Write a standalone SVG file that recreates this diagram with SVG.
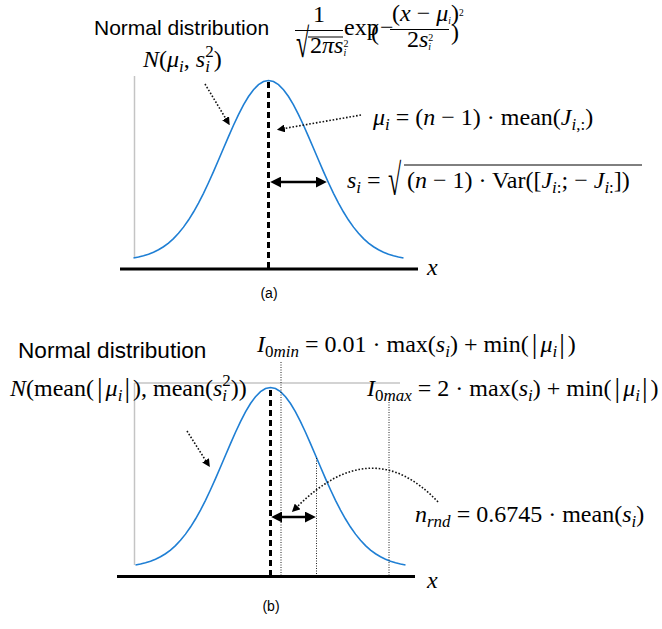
<svg xmlns="http://www.w3.org/2000/svg" width="662" height="629" viewBox="0 0 662 629">
<style>
.t{font-family:"Liberation Sans",Arial,sans-serif;fill:#000}
.m{font-family:"Liberation Serif","Times New Roman",serif;font-size:24px;fill:#000}
.i{font-style:italic}
.gray{stroke:#c4c4c4;stroke-width:1.5;fill:none}
.curve{stroke:#1f7fd4;stroke-width:1.6;fill:none}
.mean{stroke:#000;stroke-width:3;stroke-dasharray:6 4;fill:none}
.axis{stroke:#000;stroke-width:3;fill:none}
.dot{stroke:#111;stroke-width:1.6;stroke-dasharray:1.6 1.8;fill:none}
.thin{stroke:#222;stroke-width:1;stroke-dasharray:1 1.5;fill:none}
.dbl{stroke:#000;stroke-width:2.5;fill:none}
.rule{stroke:#000;stroke-width:1;fill:none}
</style>
<defs>
<path id="gauss" d="M-135 177.44 L-130 176.51 L-125 175.3 L-120 173.74 L-115 171.77 L-110 169.3 L-105 166.25 L-100 162.53 L-95 158.07 L-90 152.79 L-85 146.63 L-80 139.55 L-75 131.53 L-70 122.6 L-65 112.82 L-60 102.27 L-55 91.12 L-50 79.53 L-45 67.76 L-40 56.07 L-35 44.74 L-30 34.08 L-25 24.42 L-20 16.04 L-15 9.2 L-10 4.15 L-5 1.05 L0 0 L5 1.05 L10 4.15 L15 9.2 L20 16.04 L25 24.42 L30 34.08 L35 44.74 L40 56.07 L45 67.76 L50 79.53 L55 91.12 L60 102.27 L65 112.82 L70 122.6 L75 131.53 L80 139.55 L85 146.63 L90 152.79 L95 158.07 L100 162.53 L105 166.25 L110 169.3 L115 171.77 L120 173.74 L125 175.3 L130 176.51 L135 177.44"/>
<marker id="ahS" viewBox="0 0 10 10" refX="1" refY="5" markerWidth="8" markerHeight="8" markerUnits="userSpaceOnUse" orient="auto-start-reverse"><path d="M0,0 L10,5 L0,10 z" fill="#000"/></marker>
<marker id="ahL" viewBox="0 0 10 10" refX="2" refY="5" markerWidth="11" markerHeight="11" markerUnits="userSpaceOnUse" orient="auto-start-reverse"><path d="M0,0 L10,5 L0,10 z" fill="#000"/></marker>
</defs>

<g id="panel-a">
  <g id="a-axes">
    <line class="gray" x1="134.5" y1="76" x2="134.5" y2="258"/>
    <line class="axis" x1="120" y1="269" x2="418" y2="269"/>
    <text class="m i" x="427" y="275" font-size="24">x</text>
  </g>
  <g id="a-curve"><use href="#gauss" class="curve" transform="translate(268.5 80.5)"/></g>
  <g id="a-mean"><line class="mean" x1="268.5" y1="82" x2="268.5" y2="268"/></g>
  <g id="a-title">
    <text class="t" x="94" y="35" font-size="21">Normal distribution</text>
  </g>
  <g id="a-pdf">
    <text class="m" x="313" y="22" font-size="14">1</text>
    <line class="rule" x1="295" y1="30.5" x2="343" y2="30.5"/>
    <text class="m" font-size="24" transform="translate(296 57) scale(1 1.7)">√</text>
    <line class="rule" x1="308" y1="37" x2="343" y2="37"/>
    <text class="m" x="310" y="53" font-size="14">2<tspan class="i">πs</tspan><tspan font-size="10" dy="-6">2</tspan><tspan font-size="10" class="i" dx="-5" dy="9">i</tspan></text>
    <text class="m" x="344" y="35" font-size="14">exp</text>
    <text class="m" x="371" y="40" font-size="25">(</text>
    <text class="m" x="380" y="35" font-size="15">−</text>
    <text class="m" x="392" y="21" font-size="13">(<tspan class="i">x</tspan> − <tspan class="i">μ</tspan><tspan font-size="9.5" class="i" dy="3">i</tspan><tspan dy="-3">)</tspan><tspan font-size="9.5" dy="-5">2</tspan></text>
    <line class="rule" x1="390" y1="29.5" x2="449" y2="29.5"/>
    <text class="m" x="407" y="47" font-size="14">2<tspan class="i">s</tspan><tspan font-size="10" dy="-6">2</tspan><tspan font-size="10" class="i" dx="-5" dy="9">i</tspan></text>
    <text class="m" x="451" y="40" font-size="25">)</text>
  </g>
  <g id="a-N">
    <text class="m" x="143" y="67"><tspan class="i">N</tspan>(<tspan class="i">μ</tspan><tspan font-size="17" class="i" dy="5">i</tspan><tspan dy="-5">, </tspan><tspan class="i">s</tspan><tspan font-size="17" dy="-10">2</tspan><tspan font-size="17" class="i" dx="-8.5" dy="15">i</tspan><tspan dx="3.8" dy="-5">)</tspan></text>
  </g>
  <g id="a-mu">
    <text class="m" x="373" y="125"><tspan class="i">μ</tspan><tspan font-size="17" class="i" dy="5">i</tspan><tspan dy="-5"> = (</tspan><tspan class="i">n</tspan> − 1) · mean(<tspan class="i">J</tspan><tspan font-size="17" dy="5"><tspan class="i">i</tspan>,:</tspan><tspan dy="-5">)</tspan></text>
  </g>
  <g id="a-s">
    <text class="m" x="347" y="188"><tspan class="i">s</tspan><tspan font-size="17" class="i" dy="5">i</tspan><tspan dy="-5"> = </tspan></text>
    <text class="m" font-size="34" transform="translate(388 195) scale(1 1.85)">√</text>
    <line class="rule" x1="404" y1="165" x2="642" y2="165"/>
    <text class="m" x="407" y="188">(<tspan class="i">n</tspan> − 1) · Var([<tspan class="i">J</tspan><tspan font-size="17" dy="5"><tspan class="i">i</tspan>:</tspan><tspan dy="-5">; − </tspan><tspan class="i">J</tspan><tspan font-size="17" dy="5"><tspan class="i">i</tspan>:</tspan><tspan dy="-5">])</tspan></text>
  </g>
  <text class="t" x="269" y="298" font-size="14" text-anchor="middle">(a)</text>
</g>

<g id="panel-b">
  <g id="b-axes">
    <line class="gray" x1="134.5" y1="383" x2="134.5" y2="565"/>
    <line class="gray" x1="134.5" y1="383" x2="400" y2="383"/>
    <line class="axis" x1="117" y1="576.5" x2="415" y2="576.5"/>
    <text class="m i" x="427" y="588" font-size="24">x</text>
  </g>
  <g id="b-curve"><use href="#gauss" class="curve" transform="translate(270.5 387.5)"/></g>
  <g id="b-mean"><line class="mean" x1="270.5" y1="390" x2="270.5" y2="575"/></g>
  <g id="b-guides">
    <line class="thin" x1="281" y1="362" x2="281" y2="575"/>
    <line class="thin" x1="316.5" y1="458" x2="316.5" y2="575"/>
    <line class="thin" x1="389" y1="402" x2="389" y2="575"/>
  </g>
  <g id="b-title"><text class="t" x="18" y="358" font-size="22.6">Normal distribution</text></g>
  <g id="b-N">
    <text class="m" x="10" y="396"><tspan class="i">N</tspan>(mean(<tspan font-size="28" dx="3" dy="1">|</tspan><tspan class="i" dx="3" dy="-1">μ</tspan><tspan font-size="17" class="i" dy="5">i</tspan><tspan font-size="28" dx="2" dy="-4">|</tspan><tspan dx="3" dy="-1">), mean(</tspan><tspan class="i">s</tspan><tspan font-size="17" dy="-10">2</tspan><tspan font-size="17" class="i" dx="-8.5" dy="15">i</tspan><tspan dx="3.8" dy="-5">))</tspan></text>
  </g>
  <g id="b-Imin">
    <text class="m" x="257" y="352"><tspan class="i">I</tspan><tspan font-size="17" dy="5">0<tspan class="i">min</tspan></tspan><tspan dy="-5"> = 0.01 · max(</tspan><tspan class="i">s</tspan><tspan font-size="17" class="i" dy="5">i</tspan><tspan dy="-5">) + min(</tspan><tspan font-size="28" dx="3" dy="1">|</tspan><tspan class="i" dx="3" dy="-1">μ</tspan><tspan font-size="17" class="i" dy="5">i</tspan><tspan font-size="28" dx="2" dy="-4">|</tspan><tspan dx="3" dy="-1">)</tspan></text>
  </g>
  <g id="b-Imax">
    <text class="m" x="367" y="396"><tspan class="i">I</tspan><tspan font-size="17" dy="5">0<tspan class="i">max</tspan></tspan><tspan dy="-5"> = 2 · max(</tspan><tspan class="i">s</tspan><tspan font-size="17" class="i" dy="5">i</tspan><tspan dy="-5">) + min(</tspan><tspan font-size="28" dx="3" dy="1">|</tspan><tspan class="i" dx="3" dy="-1">μ</tspan><tspan font-size="17" class="i" dy="5">i</tspan><tspan font-size="28" dx="2" dy="-4">|</tspan><tspan dx="3" dy="-1">)</tspan></text>
  </g>
  <g id="b-nrnd">
    <text class="m" x="415" y="522"><tspan class="i">n</tspan><tspan font-size="17" class="i" dy="5">rnd</tspan><tspan dy="-5"> = 0.6745 · mean(</tspan><tspan class="i">s</tspan><tspan font-size="17" class="i" dy="5">i</tspan><tspan dy="-5">)</tspan></text>
  </g>
  <text class="t" x="271" y="611" font-size="14" text-anchor="middle">(b)</text>
</g>

<g id="connectors">
  <line class="dot" x1="205" y1="84" x2="226" y2="119" marker-end="url(#ahS)"/>
  <line class="dot" x1="361" y1="115" x2="284" y2="128.5" marker-end="url(#ahS)"/>
  <line class="dbl" x1="279" y1="182" x2="318" y2="182" marker-start="url(#ahL)" marker-end="url(#ahL)"/>
  <line class="dot" x1="187" y1="431" x2="206" y2="461" marker-end="url(#ahS)"/>
  <path class="dot" d="M438 502 Q372 432 297 507" marker-end="url(#ahS)"/>
  <line class="dbl" x1="280" y1="517" x2="307" y2="517" marker-start="url(#ahL)" marker-end="url(#ahL)"/>
</g>
</svg>
